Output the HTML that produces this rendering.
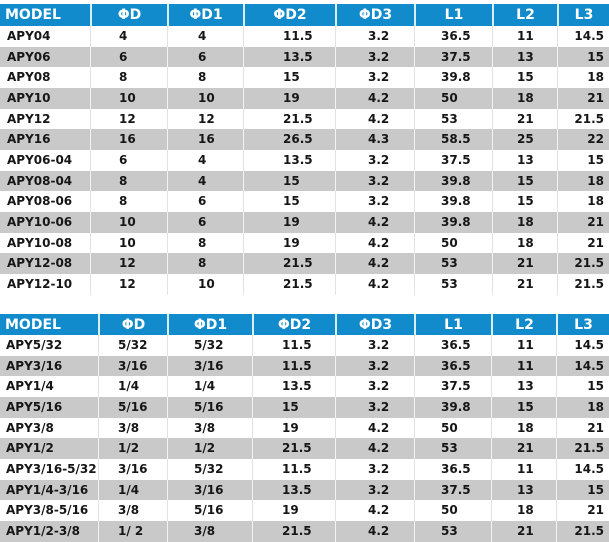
<!DOCTYPE html>
<html><head><meta charset="utf-8">
<style>
html,body{margin:0;padding:0;background:#fff;}
body{width:609px;height:539px;position:relative;overflow:hidden;font-family:"DejaVu Sans","Liberation Sans",sans-serif;font-weight:bold;}
.r{position:absolute;left:0;width:609px;height:21px;}
.r span{position:absolute;top:0;height:100%;box-sizing:border-box;white-space:nowrap;color:#161616;font-size:12px;line-height:21px;}
.w{background:#fff;}
.g{background:#c9c9c9;}
.w span{border-left:1px solid #e2e2e2;}
.g span{border-left:1px solid #f2f2f2;}
.r span:first-child{border-left:none;}
.h{background:#118bcb;height:22px;}
.h span{color:#fff;font-size:14px;text-align:center;line-height:22px;border-left:2px solid #d8eef9 !important;}
.h span:first-child{border-left:none !important;text-align:left;padding-left:5px;}
/* table 1 columns */
.a .c0{left:0;width:90px;padding-left:7px;}
.a .c1{left:90px;width:77px;padding-left:28px;}
.a .c2{left:167px;width:76px;padding-left:30px;}
.a .c3{left:243px;width:92px;padding-left:39px;}
.a .c4{left:335px;width:79px;padding-left:32px;}
.a .c5{left:414px;width:78px;padding-left:26px;}
.a .c6{left:492px;width:65px;padding-left:24px;}
.a .c7{left:557px;width:52px;text-align:right;padding-right:5px;}
/* table 2 columns */
.b .c0{left:0;width:98px;padding-left:6px;}
.b .c1{left:98px;width:69px;padding-left:19px;}
.b .c2{left:167px;width:85px;padding-left:26px;}
.b .c3{left:252px;width:83px;padding-left:29px;}
.b .c4{left:335px;width:79px;padding-left:32px;}
.b .c5{left:414px;width:77px;padding-left:26px;}
.b .c6{left:491px;width:65px;padding-left:25px;}
.b .c7{left:556px;width:53px;text-align:right;padding-right:5px;}
.h.a .c1,.h.a .c2,.h.a .c3,.h.a .c4,.h.a .c5,.h.a .c6,.h.a .c7,
.h.b .c1,.h.b .c2,.h.b .c3,.h.b .c4,.h.b .c5,.h.b .c6,.h.b .c7{padding:0;text-align:center;}
</style></head><body>

<div class="r h a" style="top:4px"><span class="c0">MODEL</span><span class="c1">ΦD</span><span class="c2">ΦD1</span><span class="c3">ΦD2</span><span class="c4">ΦD3</span><span class="c5">L1</span><span class="c6">L2</span><span class="c7">L3</span></div>

<div class="r w a" style="top:26px"><span class="c0">APY04</span><span class="c1">4</span><span class="c2">4</span><span class="c3">11.5</span><span class="c4">3.2</span><span class="c5">36.5</span><span class="c6">11</span><span class="c7">14.5</span></div>
<div class="r g a" style="top:47px;height:20px"><span class="c0">APY06</span><span class="c1">6</span><span class="c2">6</span><span class="c3">13.5</span><span class="c4">3.2</span><span class="c5">37.5</span><span class="c6">13</span><span class="c7">15</span></div>
<div class="r w a" style="top:67px"><span class="c0">APY08</span><span class="c1">8</span><span class="c2">8</span><span class="c3">15</span><span class="c4">3.2</span><span class="c5">39.8</span><span class="c6">15</span><span class="c7">18</span></div>
<div class="r g a" style="top:88px"><span class="c0">APY10</span><span class="c1">10</span><span class="c2">10</span><span class="c3">19</span><span class="c4">4.2</span><span class="c5">50</span><span class="c6">18</span><span class="c7">21</span></div>
<div class="r w a" style="top:109px;height:20px"><span class="c0">APY12</span><span class="c1">12</span><span class="c2">12</span><span class="c3">21.5</span><span class="c4">4.2</span><span class="c5">53</span><span class="c6">21</span><span class="c7">21.5</span></div>
<div class="r g a" style="top:129px"><span class="c0">APY16</span><span class="c1">16</span><span class="c2">16</span><span class="c3">26.5</span><span class="c4">4.3</span><span class="c5">58.5</span><span class="c6">25</span><span class="c7">22</span></div>
<div class="r w a" style="top:150px"><span class="c0">APY06-04</span><span class="c1">6</span><span class="c2">4</span><span class="c3">13.5</span><span class="c4">3.2</span><span class="c5">37.5</span><span class="c6">13</span><span class="c7">15</span></div>
<div class="r g a" style="top:171px;height:20px"><span class="c0">APY08-04</span><span class="c1">8</span><span class="c2">4</span><span class="c3">15</span><span class="c4">3.2</span><span class="c5">39.8</span><span class="c6">15</span><span class="c7">18</span></div>
<div class="r w a" style="top:191px"><span class="c0">APY08-06</span><span class="c1">8</span><span class="c2">6</span><span class="c3">15</span><span class="c4">3.2</span><span class="c5">39.8</span><span class="c6">15</span><span class="c7">18</span></div>
<div class="r g a" style="top:212px"><span class="c0">APY10-06</span><span class="c1">10</span><span class="c2">6</span><span class="c3">19</span><span class="c4">4.2</span><span class="c5">39.8</span><span class="c6">18</span><span class="c7">21</span></div>
<div class="r w a" style="top:233px;height:20px"><span class="c0">APY10-08</span><span class="c1">10</span><span class="c2">8</span><span class="c3">19</span><span class="c4">4.2</span><span class="c5">50</span><span class="c6">18</span><span class="c7">21</span></div>
<div class="r g a" style="top:253px"><span class="c0">APY12-08</span><span class="c1">12</span><span class="c2">8</span><span class="c3">21.5</span><span class="c4">4.2</span><span class="c5">53</span><span class="c6">21</span><span class="c7">21.5</span></div>
<div class="r w a" style="top:274px"><span class="c0">APY12-10</span><span class="c1">12</span><span class="c2">10</span><span class="c3">21.5</span><span class="c4">4.2</span><span class="c5">53</span><span class="c6">21</span><span class="c7">21.5</span></div>

<div class="r h b" style="top:314px;height:21px"><span class="c0">MODEL</span><span class="c1">ΦD</span><span class="c2">ΦD1</span><span class="c3">ΦD2</span><span class="c4">ΦD3</span><span class="c5">L1</span><span class="c6">L2</span><span class="c7">L3</span></div>

<div class="r w b" style="top:335px"><span class="c0">APY5/32</span><span class="c1">5/32</span><span class="c2">5/32</span><span class="c3">11.5</span><span class="c4">3.2</span><span class="c5">36.5</span><span class="c6">11</span><span class="c7">14.5</span></div>
<div class="r g b" style="top:356px;height:20px"><span class="c0">APY3/16</span><span class="c1">3/16</span><span class="c2">3/16</span><span class="c3">11.5</span><span class="c4">3.2</span><span class="c5">36.5</span><span class="c6">11</span><span class="c7">14.5</span></div>
<div class="r w b" style="top:376px"><span class="c0">APY1/4</span><span class="c1">1/4</span><span class="c2">1/4</span><span class="c3">13.5</span><span class="c4">3.2</span><span class="c5">37.5</span><span class="c6">13</span><span class="c7">15</span></div>
<div class="r g b" style="top:397px"><span class="c0">APY5/16</span><span class="c1">5/16</span><span class="c2">5/16</span><span class="c3">15</span><span class="c4">3.2</span><span class="c5">39.8</span><span class="c6">15</span><span class="c7">18</span></div>
<div class="r w b" style="top:418px;height:20px"><span class="c0">APY3/8</span><span class="c1">3/8</span><span class="c2">3/8</span><span class="c3">19</span><span class="c4">4.2</span><span class="c5">50</span><span class="c6">18</span><span class="c7">21</span></div>
<div class="r g b" style="top:438px"><span class="c0">APY1/2</span><span class="c1">1/2</span><span class="c2">1/2</span><span class="c3">21.5</span><span class="c4">4.2</span><span class="c5">53</span><span class="c6">21</span><span class="c7">21.5</span></div>
<div class="r w b" style="top:459px"><span class="c0">APY3/16-5/32</span><span class="c1">3/16</span><span class="c2">5/32</span><span class="c3">11.5</span><span class="c4">3.2</span><span class="c5">36.5</span><span class="c6">11</span><span class="c7">14.5</span></div>
<div class="r g b" style="top:480px;height:20px"><span class="c0">APY1/4-3/16</span><span class="c1">1/4</span><span class="c2">3/16</span><span class="c3">13.5</span><span class="c4">3.2</span><span class="c5">37.5</span><span class="c6">13</span><span class="c7">15</span></div>
<div class="r w b" style="top:500px"><span class="c0">APY3/8-5/16</span><span class="c1">3/8</span><span class="c2">5/16</span><span class="c3">19</span><span class="c4">4.2</span><span class="c5">50</span><span class="c6">18</span><span class="c7">21</span></div>
<div class="r g b" style="top:521px"><span class="c0">APY1/2-3/8</span><span class="c1">1/ 2</span><span class="c2">3/8</span><span class="c3">21.5</span><span class="c4">4.2</span><span class="c5">53</span><span class="c6">21</span><span class="c7">21.5</span></div>

</body></html>
